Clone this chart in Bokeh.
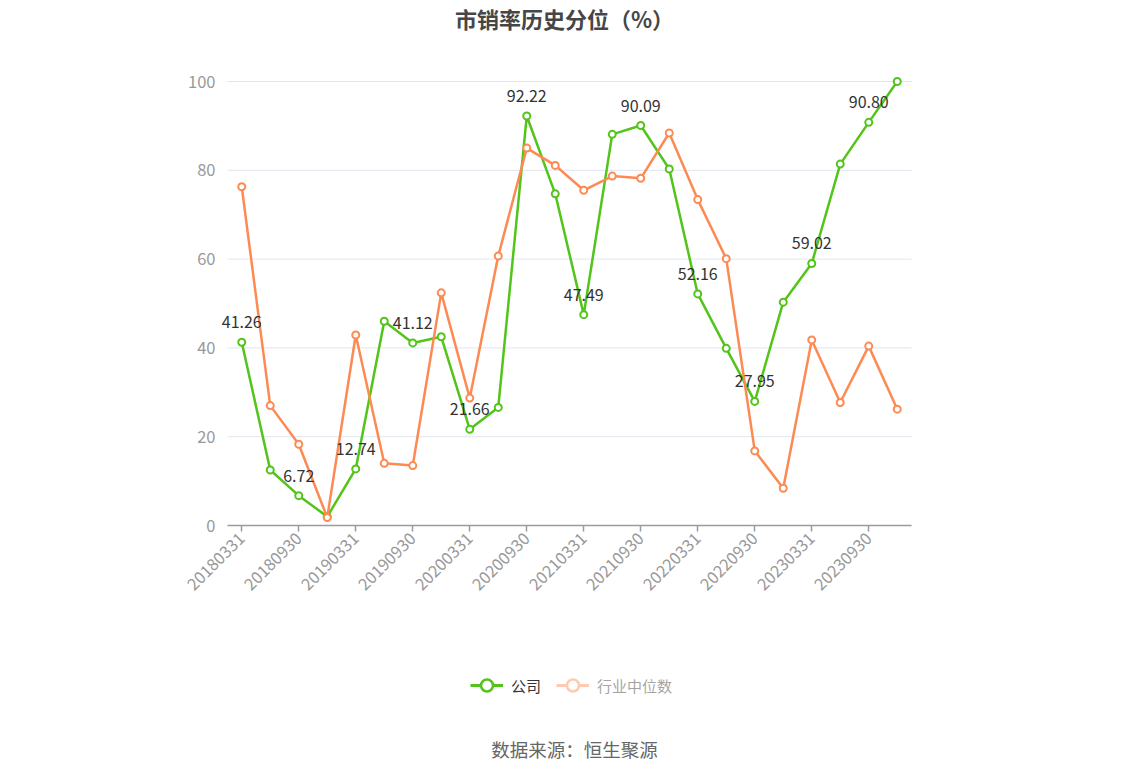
import math
from bokeh.plotting import figure
from bokeh.models import (Range1d, FixedTicker, Label, Legend, LegendItem, ColumnDataSource)
from bokeh.core.properties import value
from bokeh.embed import file_html
from bokeh.resources import INLINE

dates = ["20180331", "20180630", "20180930", "20181231",
         "20190331", "20190630", "20190930", "20191231",
         "20200331", "20200630", "20200930", "20201231",
         "20210331", "20210630", "20210930", "20211231",
         "20220331", "20220630", "20220930", "20221231",
         "20230331", "20230630", "20230930", "20231231"]
company = [41.26, 12.5, 6.72, 2.0, 12.74, 46.0, 41.12, 42.5, 21.66, 26.6, 92.22, 74.7,
           47.49, 88.1, 90.09, 80.3, 52.16, 39.9, 27.95, 50.3, 59.02, 81.4, 90.80, 100.0]
industry = [76.3, 27.0, 18.3, 1.8, 42.9, 14.0, 13.5, 52.4, 28.7, 60.7, 85.0, 81.1,
            75.5, 78.7, 78.2, 88.4, 73.4, 60.1, 16.8, 8.4, 41.8, 27.7, 40.4, 26.2]
y_ticks = [0, 20, 40, 60, 80, 100]

FONT = "Noto Sans CJK SC"
GREEN = "#52c41a"
ORANGE = "#fc8a52"

W, H = 1148, 776
# plot area geometry (pixels)
LEFT, RIGHT, TOP, BOTTOM = 227, 911, 81, 525
n = len(dates)
xs = list(range(n))
px_per_x = (RIGHT - LEFT) / n
px_per_y = (BOTTOM - TOP) / 100.0
x0 = -0.5 - LEFT / px_per_x
x1 = -0.5 + (W - LEFT) / px_per_x
y1 = BOTTOM / px_per_y
y0 = -(H - BOTTOM) / px_per_y


def sx(px):
    return -0.5 + (px - LEFT) / px_per_x


def sy(py):
    return (BOTTOM - py) / px_per_y


p = figure(width=W, height=H, output_backend="svg", toolbar_location=None,
           x_range=Range1d(x0, x1), y_range=Range1d(y0, y1),
           min_border_left=0, min_border_right=0, min_border_top=0, min_border_bottom=0)
p.title = None
p.outline_line_color = None
p.background_fill_color = "white"
p.border_fill_color = "white"

# axes
p.xaxis.fixed_location = 0
p.xaxis.bounds = (-0.5, n - 0.5)
p.xaxis.ticker = FixedTicker(ticks=xs[::2])
p.xaxis.major_label_overrides = {i: dates[i] for i in xs}
p.xaxis.major_label_orientation = math.pi / 4
p.xaxis.axis_line_color = "#9a9aa2"
p.xaxis.axis_line_width = 1.5
p.xaxis.major_tick_line_color = "#9a9aa2"
p.xaxis.major_tick_line_width = 1.5
p.xaxis.major_tick_out = 6
p.xaxis.major_tick_in = 0
p.xaxis.minor_tick_line_color = None
p.xaxis.major_label_text_color = "#999999"
p.xaxis.major_label_text_font = FONT
p.xaxis.major_label_text_font_size = "16.5px"
p.xaxis.major_label_standoff = 4

p.yaxis.fixed_location = -0.5
p.yaxis.ticker = FixedTicker(ticks=y_ticks)
p.yaxis.axis_line_color = None
p.yaxis.major_tick_line_color = None
p.yaxis.minor_tick_line_color = None
p.yaxis.major_label_text_color = "#999999"
p.yaxis.major_label_text_font = FONT
p.yaxis.major_label_text_font_size = "16.5px"
p.yaxis.major_label_standoff = 6

p.xgrid.grid_line_color = None
p.ygrid.grid_line_color = None

# horizontal grid lines across the plot area only
p.segment(x0=[-0.5] * len(y_ticks), y0=y_ticks, x1=[n - 0.5] * len(y_ticks), y1=y_ticks,
          line_color="#e0e6f1", line_width=1)

src = ColumnDataSource(dict(x=xs, c=company, i=industry))

gl = p.line("x", "c", source=src, line_color=GREEN, line_width=2.5)
gs = p.scatter("x", "c", source=src, marker="circle", size=7, fill_color="white",
               line_color=GREEN, line_width=2)
ol = p.line("x", "i", source=src, line_color=ORANGE, line_width=2.5)
os_ = p.scatter("x", "i", source=src, marker="circle", size=7, fill_color="white",
                line_color=ORANGE, line_width=2)

lab_src = ColumnDataSource(dict(x=xs[::2], y=company[::2],
                                t=["%.2f" % v for v in company[::2]]))
p.text("x", "y", text="t", source=lab_src, text_align="center", text_baseline="middle",
       y_offset=-20, text_font=value(FONT), text_font_size="16px", text_color="#333333")

# legend proxy renderers: a single point placed outside the visible ranges
proxy = ColumnDataSource(dict(x=[x0 - 50], y=[y0 - 50]))
g_leg_line = p.line("x", "y", source=proxy, line_color=GREEN, line_width=3)
g_leg_dot = p.scatter("x", "y", source=proxy, marker="circle", size=12, fill_color="white",
                      line_color=GREEN, line_width=2.5)
o_leg_line = p.line("x", "y", source=proxy, line_color=ORANGE, line_width=3, visible=False)
o_leg_dot = p.scatter("x", "y", source=proxy, marker="circle", size=12, fill_color="white",
                      line_color=ORANGE, line_width=2.5, visible=False)

legend = Legend(items=[LegendItem(label="公司", renderers=[g_leg_line, g_leg_dot]),
                       LegendItem(label="行业中位数", renderers=[o_leg_line, o_leg_dot])],
                orientation="horizontal", location=(470, H - 700), click_policy="hide",
                border_line_color=None, background_fill_alpha=0,
                label_text_font=FONT, label_text_font_size="15px", label_text_color="#333333",
                glyph_width=33, glyph_height=30, spacing=15, padding=0, margin=0,
                label_standoff=8, label_height=30,
                inactive_fill_color="white", inactive_fill_alpha=0.55)
p.add_layout(legend, "center")

# title and source
p.add_layout(Label(x=sx(564), y=sy(17), text="市销率历史分位（%）", text_align="center",
                   text_baseline="middle", text_font=FONT, text_font_size="22px",
                   text_font_style="bold", text_color="#464646"))
p.add_layout(Label(x=sx(574), y=sy(748), text="数据来源：恒生聚源", text_align="center",
                   text_baseline="middle", text_font=FONT, text_font_size="18.5px",
                   text_color="#666666"))

open("out.html", "w").write(file_html(p, INLINE))
